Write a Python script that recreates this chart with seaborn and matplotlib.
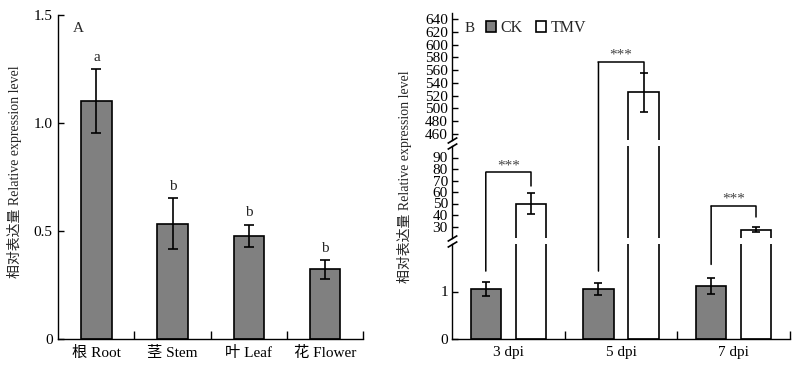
## Relative expression: (A) tissues, (B) CK vs TMV over time with broken y axis

# Imports
import numpy as np
import pandas as pd
import matplotlib
matplotlib.use("Agg")
import matplotlib.pyplot as plt
from matplotlib.patches import Patch, ConnectionPatch
import seaborn as sns

############################# Data ################################

# Panel A - tissues
tissues = ["根 Root", "茎 Stem", "叶 Leaf", "花 Flower"]
tissue_mean = [1.10, 0.535, 0.478, 0.324]
tissue_err = [0.148, 0.118, 0.052, 0.043]
tissue_letters = ["a", "b", "b", "b"]

# Panel B - days post inoculation
days = ["3 dpi", "5 dpi", "7 dpi"]
ck_mean = [1.05, 1.05, 1.12]
ck_err = [0.14, 0.13, 0.17]
tmv_mean = [50, 525, 27]
tmv_err = [9, 31, 2.2]

# Significance brackets (start on CK, top line, end on TMV)
bracket_low = [1.43, 1.43, 1.57]
bracket_top = [77, 572, 47.7]
bracket_end = [65, 556, 38]
bracket_star = [83, 584, 53.5]
bracket_seg = [1, 0, 1]   # 0 = top segment, 1 = middle segment

ylabel = "相对表达量 Relative expression level"

############################# Style ################################

sns.set_theme(style = "ticks")
plt.rcParams["font.family"] = ["Liberation Serif", "Noto Sans CJK SC"]
plt.rcParams["axes.linewidth"] = 1.0
plt.rcParams["axes.edgecolor"] = "black"
plt.rcParams["xtick.color"] = "black"
plt.rcParams["ytick.color"] = "black"

W, H = 800, 370
fig = plt.figure(figsize = (W / 100, H / 100), dpi = 100)

def px_axes(left, top, right, bottom):
    # convert pixel box to figure fraction
    return [left / W, 1 - bottom / H, (right - left) / W, (bottom - top) / H]

############################# Panel A ################################

ax_a = fig.add_axes(px_axes(58.3, 15, 363, 339.3))

sns.barplot(x = tissues, y = tissue_mean, color = "#808080", saturation = 1,
            edgecolor = "black", linewidth = 1.2, width = 0.4, errorbar = None, ax = ax_a)
ax_a.errorbar(np.arange(len(tissues)), tissue_mean, yerr = tissue_err, fmt = "none",
              ecolor = "black", elinewidth = 1.2, capsize = 3.8, capthick = 1.2)

for i, (m, e, l) in enumerate(zip(tissue_mean, tissue_err, tissue_letters)):
    ax_a.text(i, m + e + 0.025, l, ha = "center", va = "bottom", fontsize = 11)

ax_a.set_xlim(-0.5, 3.5)
ax_a.set_ylim(0, 1.5)
ax_a.set_yticks([0, 0.5, 1.0, 1.5])
ax_a.set_yticklabels(["0", "0.5", "1.0", "1.5"])
ax_a.set_xticks([0.5, 1.5, 2.5, 3.5], minor = True)
ax_a.tick_params(axis = "y", direction = "in", length = 4, width = 1, labelsize = 11, pad = 4)
ax_a.tick_params(axis = "x", which = "major", length = 0, labelsize = 11, pad = 5)
ax_a.tick_params(axis = "x", which = "minor", direction = "in", length = 5.5, width = 1)
ax_a.set_xlabel("")
ax_a.set_ylabel("")
sns.despine(ax = ax_a, top = True, right = True)
ax_a.text(0.065, 0.957, "A", transform = ax_a.transAxes, ha = "center", va = "center", fontsize = 11)

fig.text(15 / W, 1 - 172 / H, ylabel, rotation = 90, ha = "center", va = "center", fontsize = 10)

############################# Panel B ################################

dfb = pd.DataFrame({
    "day": days * 2,
    "group": ["CK"] * len(days) + ["TMV"] * len(days),
    "value": ck_mean + tmv_mean,
})
pal = {"CK": "#808080", "TMV": "white"}

ax_top = fig.add_axes(px_axes(452, 12.6, 790, 140.4))
ax_mid = fig.add_axes(px_axes(452, 146, 790, 238))
ax_bot = fig.add_axes(px_axes(452, 244, 790, 339))
segs = [(ax_top, (450, 650), np.arange(460, 641, 20)),
        (ax_mid, (20, 100), np.arange(30, 91, 10)),
        (ax_bot, (0, 2), [0, 1])]

x = np.arange(len(days))
for ax, lims, ticks in segs:
    sns.barplot(data = dfb, x = "day", y = "value", hue = "group", palette = pal, saturation = 1,
                edgecolor = "black", linewidth = 1.2, width = 0.8, gap = 0.33,
                errorbar = None, legend = False, ax = ax)
    ax.errorbar(x - 0.2, ck_mean, yerr = ck_err, fmt = "none", ecolor = "black",
                elinewidth = 1.2, capsize = 3, capthick = 1.2)
    ax.errorbar(x + 0.2, tmv_mean, yerr = tmv_err, fmt = "none", ecolor = "black",
                elinewidth = 1.2, capsize = 3, capthick = 1.2)
    ax.set_xlim(-0.5, 2.5)
    ax.set_ylim(*lims)
    ax.set_yticks(ticks)
    ax.set_yticklabels([str(t) for t in ticks])
    ax.tick_params(axis = "y", direction = "in", length = 4, width = 1, labelsize = 11, pad = 3)
    ax.set_xlabel("")
    ax.set_ylabel("")
    if ax is ax_bot:
        sns.despine(ax = ax, top = True, right = True)
        ax.set_xticks([0.5, 1.5, 2.5], minor = True)
        ax.tick_params(axis = "x", which = "major", length = 0, labelsize = 11, pad = 5)
        ax.tick_params(axis = "x", which = "minor", direction = "in", length = 5.5, width = 1)
    else:
        sns.despine(ax = ax, top = True, right = True, bottom = True)
        ax.set_xticks([])

# Break marks on the left axis
brk = dict(marker = [(-1, -0.6), (1, 0.6)], markersize = 7, linestyle = "none",
           color = "black", mec = "black", mew = 1.2, clip_on = False)
ax_top.plot([0], [0], transform = ax_top.transAxes, **brk)
ax_mid.plot([0, 0], [0, 1], transform = ax_mid.transAxes, **brk)
ax_bot.plot([0], [1], transform = ax_bot.transAxes, **brk)

# Significance brackets
seg_axes = [ax_top, ax_mid]
for i in range(len(days)):
    tax = seg_axes[bracket_seg[i]]
    xl, xr = i - 0.2, i + 0.2
    con = ConnectionPatch(xyA = (xl, bracket_low[i]), coordsA = ax_bot.transData,
                          xyB = (xl, bracket_top[i]), coordsB = tax.transData,
                          color = "black", linewidth = 1.1)
    fig.add_artist(con)
    tax.plot([xl, xr, xr], [bracket_top[i], bracket_top[i], bracket_end[i]],
             color = "black", linewidth = 1.1, clip_on = False)
    tax.text(i, bracket_star[i], "***", ha = "center", va = "center", fontsize = 11, color = "#444444")

# Legend and panel letter
fig.text(470 / W, 1 - 28 / H, "B", ha = "center", va = "center", fontsize = 11)
handles = [Patch(facecolor = pal["CK"], edgecolor = "black", linewidth = 1.2),
           Patch(facecolor = pal["TMV"], edgecolor = "black", linewidth = 1.2)]
fig.legend(handles = handles, labels = ["CK", "TMV"], ncol = 2, loc = "center left",
           bbox_to_anchor = (486 / W, 1 - 28 / H), bbox_transform = fig.transFigure,
           frameon = False, fontsize = 11.5, handlelength = 0.62, handleheight = 0.62,
           handletextpad = 0.25, columnspacing = 0.9, borderpad = 0, borderaxespad = 0)

fig.text(405 / W, 1 - 177 / H, ylabel, rotation = 90, ha = "center", va = "center", fontsize = 10)

plt.savefig("out.png", dpi = 100)
plt.close()
